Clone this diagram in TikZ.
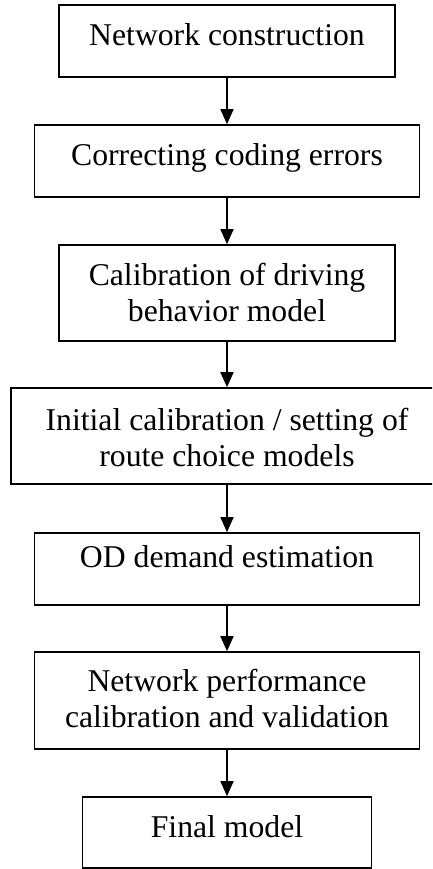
\documentclass[tikz,border=0pt]{standalone}
\usepackage{fontspec}
\setmainfont{Liberation Serif}
\usetikzlibrary{arrows.meta}
\tikzset{
  box/.style={draw, line width=1.6pt, inner sep=0pt, align=center,
    font=\fontsize{31.7}{36}\selectfont},
  link/.style={line width=1.6pt, -{Triangle[width=13pt,length=15pt]}}
}
\begin{document}
\begin{tikzpicture}[x=1pt,y=-1pt]
\useasboundingbox (0,0) rectangle (432,869);
\clip (0,0) rectangle (432,869);
\node[box, minimum width=336pt, minimum height=72pt, text height=21pt, text depth=11pt] (n1) at (227,41) {Network construction};
\node[box, minimum width=385pt, minimum height=72pt, text height=21pt, text depth=11pt] (n2) at (227,161) {Correcting coding errors};
\node[box, minimum width=336pt, minimum height=96pt, text height=58pt, text depth=2pt] (n3) at (227,293) {Calibration of driving\\behavior model};
\node[box, minimum width=432pt, minimum height=96pt, text height=61pt, text depth=1pt] (n4) at (227,436) {Initial calibration / setting of\\route choice models};
\node[box, minimum width=385pt, minimum height=72pt, text height=21pt, text depth=25pt] (n5) at (227,569) {OD demand estimation};
\node[box, minimum width=385pt, minimum height=97pt, text height=57pt, text depth=4pt] (n6) at (227,700.5) {Network performance\\calibration and validation};
\node[box, minimum width=289pt, minimum height=71pt, text height=21pt, text depth=12pt] (n7) at (227,832.5) {Final model};
\draw[link] (n1.south) -- (n2.north);
\draw[link] (n2.south) -- (n3.north);
\draw[link] (n3.south) -- (n4.north);
\draw[link] (n4.south) -- (n5.north);
\draw[link] (n5.south) -- (n6.north);
\draw[link] (n6.south) -- (n7.north);
\end{tikzpicture}
\end{document}
